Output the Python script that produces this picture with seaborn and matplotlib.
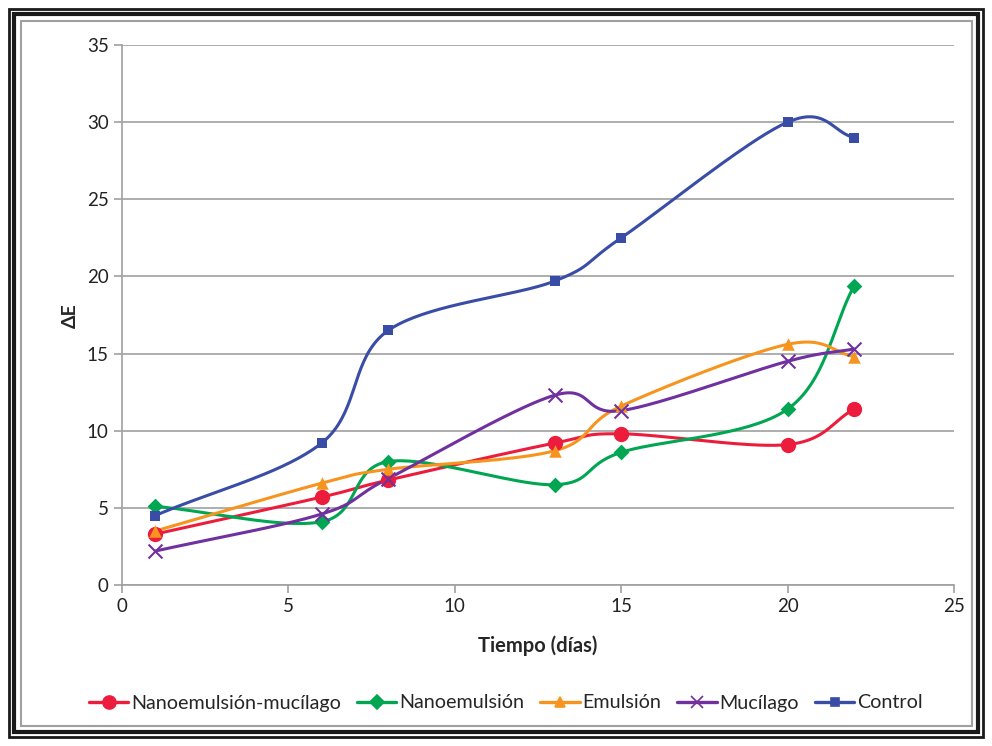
import numpy as np
import pandas as pd
import seaborn as sns
import matplotlib
matplotlib.use("Agg")
from matplotlib import pyplot as plt
from matplotlib.lines import Line2D
from matplotlib.patches import Rectangle

dias = [1, 6, 8, 13, 15, 20, 22]
nano_mucilago = [3.3, 5.7, 6.8, 9.2, 9.8, 9.1, 11.4]
nanoemulsion = [5.1, 4.1, 8.0, 6.5, 8.6, 11.4, 19.4]
emulsion = [3.5, 6.6, 7.5, 8.7, 11.6, 15.6, 14.8]
mucilago = [2.2, 4.6, 6.9, 12.3, 11.3, 14.5, 15.3]
control = [4.5, 9.2, 16.5, 19.7, 22.5, 30.0, 29.0]

series = ["Nanoemulsión-mucílago", "Nanoemulsión", "Emulsión", "Mucílago", "Control"]
valores = [nano_mucilago, nanoemulsion, emulsion, mucilago, control]
colores = ["#EC1C3C", "#00A651", "#F7941D", "#7030A0", "#3A4DA6"]
marcadores = ["o", "D", "^", "x", "s"]
tamanos = [11, 8, 9, 10, 7]

sns.set_style("white")
plt.rcParams['font.family'] = ['Lato', 'DejaVu Sans']


def suavizar(x, y, n=40):
    # excel-like smoothing: catmull-rom through the points
    x = np.asarray(x, float)
    y = np.asarray(y, float)
    px = np.concatenate([[2 * x[0] - x[1]], x, [2 * x[-1] - x[-2]]])
    py = np.concatenate([[2 * y[0] - y[1]], y, [2 * y[-1] - y[-2]]])
    xs, ys = [], []
    t = np.linspace(0, 1, n)
    for i in range(1, len(px) - 2):
        for p, out in ((px, xs), (py, ys)):
            p0, p1, p2, p3 = p[i - 1], p[i], p[i + 1], p[i + 2]
            out.extend(0.5 * ((2 * p1) + (-p0 + p2) * t
                              + (2 * p0 - 5 * p1 + 4 * p2 - p3) * t ** 2
                              + (-p0 + 3 * p1 - 3 * p2 + p3) * t ** 3))
    return np.array(xs), np.array(ys)


fig = plt.figure(figsize=(9.92, 7.46), dpi=100)
ax = fig.add_axes([122 / 992, 1 - 585 / 746, (954 - 122) / 992, (585 - 45) / 746])

handles = []
for nombre, vals, c, m, s in zip(series, valores, colores, marcadores, tamanos):
    sx, sy = suavizar(dias, vals)
    curva = pd.DataFrame({"x": sx, "y": sy})
    sns.lineplot(data=curva, x="x", y="y", ax=ax, color=c, lw=2.2, sort=False,
                 estimator=None, zorder=3)
    puntos = pd.DataFrame({"x": dias, "y": vals})
    sns.scatterplot(data=puntos, x="x", y="y", ax=ax, color=c, marker=m,
                    s=s ** 2, linewidth=1.5 if m == "x" else 0, edgecolor=c, zorder=4)
    handles.append(Line2D([], [], color=c, lw=2.4, marker=m, markersize=s * 0.85,
                          markeredgecolor=c, markeredgewidth=1.2))

ax.set_xlim(0, 25)
ax.set_ylim(0, 35)
ax.set_xticks(range(0, 26, 5))
ax.set_yticks(range(0, 36, 5))
ax.yaxis.grid(True, color="#A0A0A0", lw=1.2)
ax.set_axisbelow(True)
for side in ["top", "right"]:
    ax.spines[side].set_visible(False)
for side in ["left", "bottom"]:
    ax.spines[side].set_color("#A0A0A0")
    ax.spines[side].set_linewidth(1.2)
ax.tick_params(axis="both", direction="out", length=6, width=1.2, color="#A0A0A0",
               labelsize=13.5, labelcolor="#222222", left=True, bottom=True)
ax.set_xlabel("Tiempo (días)", fontsize=14.5, fontweight="bold", va="center")
ax.xaxis.set_label_coords(0.5, -0.113)
ax.set_ylabel("ΔE", fontsize=14, fontweight="bold", va="center")
ax.yaxis.set_label_coords(-0.0625, 0.498)

fig.legend(handles, series, loc="center", bbox_to_anchor=(0.51, 1 - 703 / 746),
           ncol=5, frameon=False, fontsize=14.2, handlelength=2.0,
           handletextpad=0.15, columnspacing=0.8)

# double frame around the chart
fig.patches.append(Rectangle((9 / 992, 9 / 746), 1 - 18 / 992, 1 - 18 / 746,
                             transform=fig.transFigure, fill=False, ec="#1A1A1A", lw=2))
fig.patches.append(Rectangle((14 / 992, 14 / 746), 1 - 28 / 992, 1 - 28 / 746,
                             transform=fig.transFigure, fill=False, ec="#1A1A1A", lw=3))
fig.patches.append(Rectangle((20.5 / 992, 20.5 / 746), 1 - 41 / 992, 1 - 41 / 746,
                             transform=fig.transFigure, fill=False, ec="#A0A0A0", lw=1.5))

fig.savefig("out.png", dpi=100)
